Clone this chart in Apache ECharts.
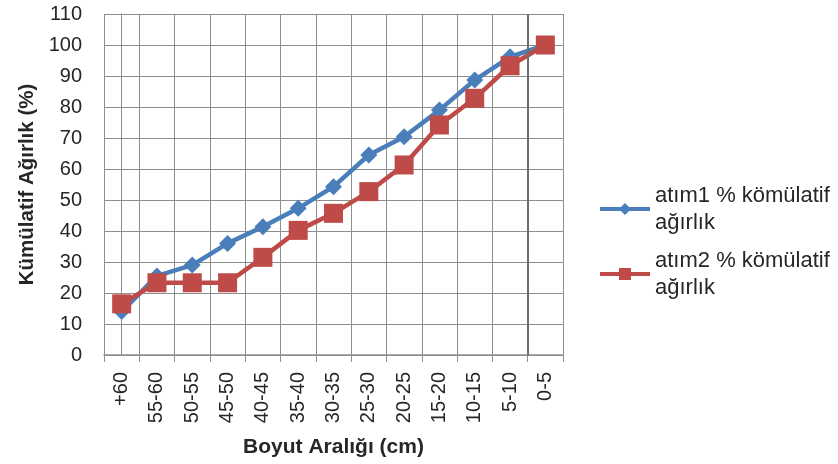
<!DOCTYPE html>
<html>
<head>
<meta charset="utf-8">
<script src="https://cdn.jsdelivr.net/npm/echarts@6/dist/echarts.min.js"></script>
<style>
  html, body { margin: 0; padding: 0; background: #fff; }
  #chart { width: 838px; height: 464px; }
</style>
</head>
<body>
<div id="chart"></div>
<script>
// Size ranges (cm), coarsest first
const categories = ['+60', '55-60', '50-55', '45-50', '40-45', '35-40', '30-35', '25-30', '20-25', '15-20', '10-15', '5-10', '0-5'];
// Cumulative weight (%) for each blast
const atim1 = [14.0, 25.5, 29.0, 36.0, 41.4, 47.3, 54.3, 64.5, 70.4, 79.0, 88.7, 96.2, 100];
const atim2 = [16.5, 23.3, 23.3, 23.3, 31.5, 40.2, 45.7, 52.7, 61.3, 74.2, 82.8, 93.3, 100];
const yTicks = { min: 0, max: 110, interval: 10 };

const seriesNames = ['atım1 % kömülatif\nağırlık', 'atım2 % kömülatif\nağırlık'];
const textColor = '#262626';
const gridColor = '#8e8e8e';
const fontFamily = 'Liberation Sans, Arial, sans-serif';

const chart = echarts.init(document.getElementById('chart'), null, { renderer: 'canvas' });
chart.setOption({
  animation: false,
  backgroundColor: '#ffffff',
  grid: { left: 104, right: 275, top: 14, bottom: 109, containLabel: false },
  legend: {
    orient: 'vertical',
    left: 598,
    top: 182,
    padding: 0,
    itemWidth: 50,
    itemHeight: 15,
    itemGap: 11,
    lineStyle: { width: 4 },
    textStyle: { fontSize: 22, color: textColor, fontFamily, lineHeight: 27, padding: [0, 0, 0, 0] },
    data: seriesNames
  },
  xAxis: [{
    type: 'category',
    data: categories,
    boundaryGap: true,
    name: 'Boyut Aralığı (cm)',
    nameLocation: 'middle',
    nameGap: 82,
    nameTextStyle: { fontSize: 21, fontWeight: 'bold', color: textColor, fontFamily },
    axisLine: { show: true, lineStyle: { color: gridColor, width: 1.5 } },
    axisTick: { show: true, length: 7, alignWithLabel: false, lineStyle: { color: gridColor } },
    axisLabel: { rotate: 90, fontSize: 20, color: textColor, fontFamily, margin: 17, interval: 0 },
    splitLine: { show: true, interval: 0, lineStyle: { color: gridColor, width: 1 } }
  }, {
    // hidden numeric twin of the category axis, used for the vertical reference line
    type: 'value',
    min: -0.5,
    max: 12.5,
    show: false
  }],
  yAxis: {
    type: 'value',
    min: yTicks.min,
    max: yTicks.max,
    interval: yTicks.interval,
    name: 'Kümülatif Ağırlık (%)',
    nameLocation: 'middle',
    nameGap: 64,
    nameTextStyle: { fontSize: 20.5, fontWeight: 'bold', color: textColor, fontFamily },
    axisLine: { show: true, lineStyle: { color: gridColor, width: 1 } },
    axisTick: { show: true, length: 7, lineStyle: { color: gridColor } },
    axisLabel: { fontSize: 20, color: textColor, fontFamily, margin: 22 },
    splitLine: { show: true, lineStyle: { color: gridColor, width: 1 } }
  },
  series: [
    {
      name: seriesNames[0],
      type: 'line',
      data: atim1,
      symbol: 'diamond',
      symbolSize: 17,
      itemStyle: { color: '#4a7ebb' },
      lineStyle: { color: '#4a7ebb', width: 4.5 },
      z: 3
    },
    {
      name: seriesNames[1],
      type: 'line',
      data: atim2,
      symbol: 'rect',
      symbolSize: 19,
      itemStyle: { color: '#be4b48' },
      lineStyle: { color: '#be4b48', width: 4.5 },
      z: 4
    },
    {
      type: 'line',
      xAxisIndex: 1,
      data: [],
      silent: true,
      markLine: {
        symbol: 'none',
        silent: true,
        label: { show: false },
        lineStyle: { color: '#6e6e6e', width: 2, type: 'solid' },
        data: [{ xAxis: 11.5 }]
      }
    }
  ]
});
</script>
</body>
</html>
